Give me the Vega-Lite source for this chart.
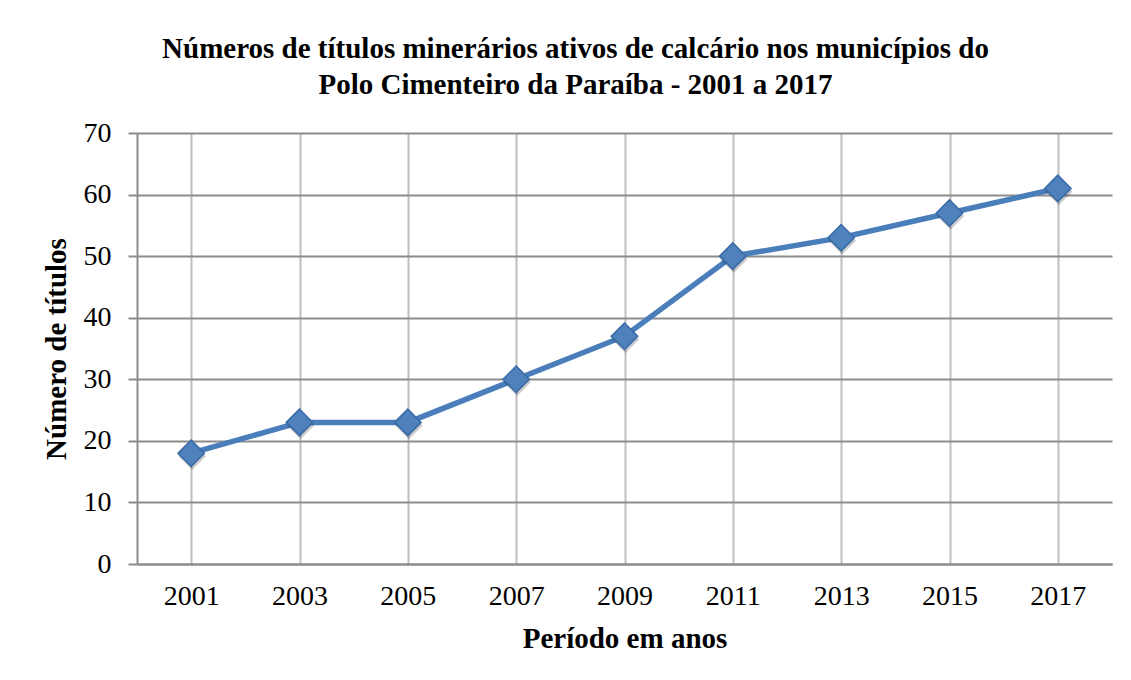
{
  "$schema": "https://vega.github.io/schema/vega-lite/v6.json",
  "autosize": "none",
  "width": 975,
  "height": 431,
  "padding": {"left": 137, "top": 133, "right": 19, "bottom": 116},
  "background": "white",
  "title": {
    "text": ["Números de títulos minerários ativos de calcário nos municípios do", "Polo Cimenteiro da Paraíba - 2001 a 2017"],
    "font": "Liberation Serif",
    "fontSize": 29,
    "fontWeight": "bold",
    "color": "black",
    "anchor": "middle",
    "dx": -49,
    "offset": 19,
    "lineHeight": 36
  },
  "data": {
    "values": [
      {"ano": "2001", "titulos": 18},
      {"ano": "2003", "titulos": 23},
      {"ano": "2005", "titulos": 23},
      {"ano": "2007", "titulos": 30},
      {"ano": "2009", "titulos": 37},
      {"ano": "2011", "titulos": 50},
      {"ano": "2013", "titulos": 53},
      {"ano": "2015", "titulos": 57},
      {"ano": "2017", "titulos": 61}
    ]
  },
  "config": {
    "view": {"stroke": null},
    "axis": {
      "labelFont": "Liberation Serif",
      "titleFont": "Liberation Serif",
      "labelFontSize": 28,
      "titleFontSize": 29,
      "titleFontWeight": "bold",
      "labelColor": "black",
      "titleColor": "black"
    }
  },
  "encoding": {
    "x": {
      "field": "ano",
      "type": "ordinal",
      "scale": {"type": "point", "padding": 0.5},
      "axis": {
        "title": "Período em anos",
        "labelAngle": 0,
        "ticks": false,
        "labelPadding": 18,
        "titlePadding": 14,
        "domainColor": "#8c8c8c",
        "domainWidth": 2,
        "grid": true,
        "gridColor": "#bfbfbf",
        "gridWidth": 2,
        "gridOpacity": 1
      }
    },
    "y": {
      "field": "titulos",
      "type": "quantitative",
      "scale": {"domain": [0, 70], "nice": false},
      "axis": {
        "title": "Número de títulos",
        "values": [0, 10, 20, 30, 40, 50, 60, 70],
        "tickSize": 9,
        "tickColor": "#8c8c8c",
        "tickWidth": 2,
        "labelPadding": 17,
        "titlePadding": 12,
        "domainColor": "#8c8c8c",
        "domainWidth": 2,
        "grid": true,
        "gridColor": "#8c8c8c",
        "gridWidth": 2,
        "gridOpacity": 1
      }
    }
  },
  "layer": [
    {
      "mark": {"type": "line", "color": "#4a7ebb", "strokeWidth": 5.5}
    },
    {
      "mark": {"type": "point", "shape": "diamond", "filled": true, "size": 760, "color": "#000000", "opacity": 0.2, "xOffset": 1, "yOffset": 3}
    },
    {
      "mark": {"type": "point", "shape": "diamond", "filled": true, "size": 700, "fill": "#4f81bd", "stroke": "#386aa6", "strokeWidth": 1.5, "opacity": 1}
    }
  ]
}
